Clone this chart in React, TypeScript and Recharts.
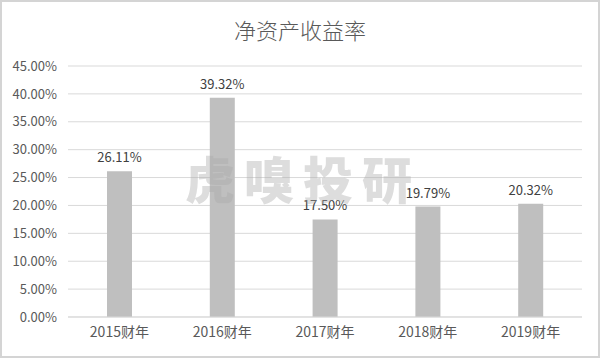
import React from 'react';
import { BarChart, Bar, XAxis, YAxis, CartesianGrid, LabelList } from 'recharts';

const years = ['2015财年', '2016财年', '2017财年', '2018财年', '2019财年'];
const roe = [26.11, 39.32, 17.5, 19.79, 20.32];
const yTicks = [0, 5, 10, 15, 20, 25, 30, 35, 40, 45];

const data = years.map((y, i) => ({ name: y, value: roe[i] }));

const FONT = '"Noto Sans CJK SC", "Noto Sans", sans-serif';

export default function App() {
  return (
    <div
      style={{
        position: 'absolute',
        left: 0,
        top: 0,
        width: 600,
        height: 358,
        boxSizing: 'border-box',
        border: '2px solid #d4d4d4',
        background: '#fff',
        fontFamily: FONT,
      }}
    >
      <div
        style={{
          position: 'absolute',
          left: 0,
          top: 11,
          width: 596,
          textAlign: 'center',
          fontSize: 22,
          fontWeight: 300,
          color: '#595959',
          lineHeight: '32px',
        }}
      >
        净资产收益率
      </div>
      <div style={{ position: 'absolute', left: -2, top: -2 }}>
        <BarChart
          width={600}
          height={358}
          data={data}
          margin={{ top: 66, right: 18, bottom: 11, left: 0 }}
        >
          <CartesianGrid vertical={false} stroke="#d9d9d9" />
          <XAxis
            dataKey="name"
            tickLine={false}
            axisLine={{ stroke: '#d9d9d9' }}
            tick={{ fill: '#595959', fontSize: 14, fontFamily: FONT }}
            tickMargin={4}
            height={30}
          />
          <YAxis
            domain={[0, 45]}
            ticks={yTicks}
            width={68}
            axisLine={false}
            tickLine={false}
            tickMargin={5}
            tick={{ fill: '#595959', fontSize: 13, fontFamily: FONT }}
            tickFormatter={(v: number) => `${v.toFixed(2)}%`}
          />
          <Bar dataKey="value" fill="#bfbfbf" barSize={25} isAnimationActive={false}>
            <LabelList
              dataKey="value"
              position="top"
              offset={9}
              fill="#404040"
              fontSize={13}
              fontFamily={FONT}
              formatter={(v: number) => `${v.toFixed(2)}%`}
            />
          </Bar>
        </BarChart>
      </div>
      <div
        style={{
          position: 'absolute',
          left: 183,
          top: 145,
          width: 236,
          textAlign: 'center',
          fontSize: 50,
          fontWeight: 900,
          letterSpacing: 9,
          color: 'rgba(170,170,170,0.4)',
          lineHeight: '60px',
          pointerEvents: 'none',
          whiteSpace: 'nowrap',
        }}
      >
        虎嗅投研
      </div>
    </div>
  );
}
